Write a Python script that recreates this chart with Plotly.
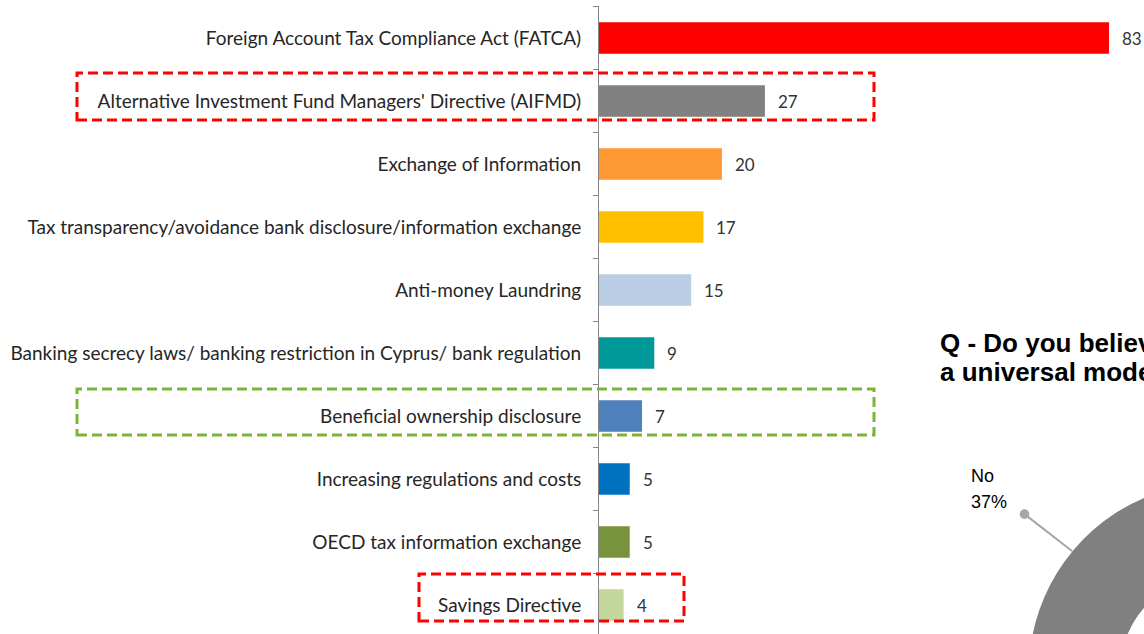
import plotly.graph_objects as go

# ---------------- data ----------------
categories = [
    "Foreign Account Tax Compliance Act (FATCA)",
    "Alternative Investment Fund Managers' Directive (AIFMD)",
    "Exchange of Information",
    "Tax transparency/avoidance bank disclosure/information exchange",
    "Anti-money Laundring",
    "Banking secrecy laws/ banking restriction in Cyprus/ bank regulation",
    "Beneficial ownership disclosure",
    "Increasing regulations and costs",
    "OECD tax information exchange",
    "Savings Directive",
]
values = [83, 27, 20, 17, 15, 9, 7, 5, 5, 4]
bar_colors = ["#FF0000", "#808080", "#FF9933", "#FFC000", "#B9CDE5",
              "#009999", "#4F81BD", "#0070C0", "#77933C", "#C3D69B"]

pie_labels = ["Yes", "No"]
pie_values = [63, 37]
pie_colors = ["#FF0000", "#808080"]

question_lines = ["Q - Do you believe there should be",
                  "a universal model for beneficial ownership?"]

# ---------------- geometry helpers (figure wider than window; extra is off-screen) ----------------
W, H = 1420, 870
ML, MT = 599, 6
PW, PH = W - ML, H - MT


def px(x):
    return (x - ML) / PW


def py(y):
    return (H - y) / PH


fig = go.Figure()

fig.add_trace(go.Bar(
    x=values, y=categories, orientation="h",
    marker=dict(color=bar_colors, line=dict(width=0)),
    width=0.5, hoverinfo="skip", showlegend=False,
))

# value labels
for c, v in zip(categories, values):
    fig.add_annotation(x=v, y=c, xref="x", yref="y", text=str(v),
                       showarrow=False, xanchor="left", xshift=11,
                       font=dict(family="Lato", size=17, color="#333333"))

# donut (centre falls outside the visible window)
cx, cy, R = 1218.6, 672.5, 189.8
fig.add_trace(go.Pie(
    labels=pie_labels, values=pie_values, hole=0.52, sort=False,
    direction="clockwise", rotation=0,
    marker=dict(colors=pie_colors, line=dict(width=0)),
    textinfo="none", hoverinfo="skip", showlegend=False,
    domain=dict(x=[px(cx - R), px(cx + R)], y=[py(cy + R), py(cy - R)]),
))

# question title (two lines, tight spacing)
for i, line in enumerate(question_lines):
    fig.add_annotation(x=px(938), y=py(343 + 29.5 * i), xref="paper", yref="paper",
                       xanchor="left", yanchor="middle", align="left", showarrow=False,
                       text="<b>" + line + "</b>",
                       font=dict(family="Liberation Sans", size=26, color="#000000"))

# No label + leader line
for i, t in enumerate([pie_labels[1], f"{pie_values[1]}%"]):
    fig.add_annotation(x=px(969), y=py(476 + 26 * i), xref="paper", yref="paper",
                       xanchor="left", yanchor="middle", align="left", showarrow=False,
                       text=t, font=dict(family="Liberation Sans", size=18, color="#000000"))
fig.add_annotation(x=px(1072), y=py(551), xref="paper", yref="paper",
                   ax=-49, ay=-38, axref="pixel", ayref="pixel",
                   text="", showarrow=True, arrowside="start", startarrowhead=6,
                   startarrowsize=1.2, arrowwidth=2, arrowcolor="#A6A6A6", standoff=0, startstandoff=0)

# dashed highlight boxes
boxes = [
    (77, 73, 874, 120, "#FF0000"),
    (77, 389, 874, 435, "#7AB536"),
    (419, 574, 684, 621, "#FF0000"),
]
for x0, y0, x1, y1, col in boxes:
    fig.add_shape(type="rect", xref="paper", yref="paper",
                  x0=px(x0), x1=px(x1), y0=py(y1), y1=py(y0),
                  line=dict(color=col, width=3, dash="10px,5px"),
                  fillcolor="rgba(0,0,0,0)", layer="above")

ybottom = (H - 38) / 63
fig.update_layout(
    width=W, height=H,
    margin=dict(l=ML, r=0, t=MT, b=0, pad=0),
    paper_bgcolor="white", plot_bgcolor="white",
    xaxis=dict(range=[0, PW / 6.145], visible=False, fixedrange=True),
    yaxis=dict(
        type="category", categoryorder="array", categoryarray=categories,
        range=[ybottom, -0.508],
        showline=True, linecolor="#868686", linewidth=1,
        ticks="outside", tickson="boundaries", ticklen=5, tickcolor="#868686",
        ticklabelstandoff=13,
        showgrid=False, zeroline=False,
        tickfont=dict(family="Lato", size=19, color="#262626"),
    ),
    bargap=0.5,
)

fig.write_html("out.html", post_script="document.documentElement.style.overflow='hidden';document.body.style.overflow='hidden';document.body.style.margin='0';")
